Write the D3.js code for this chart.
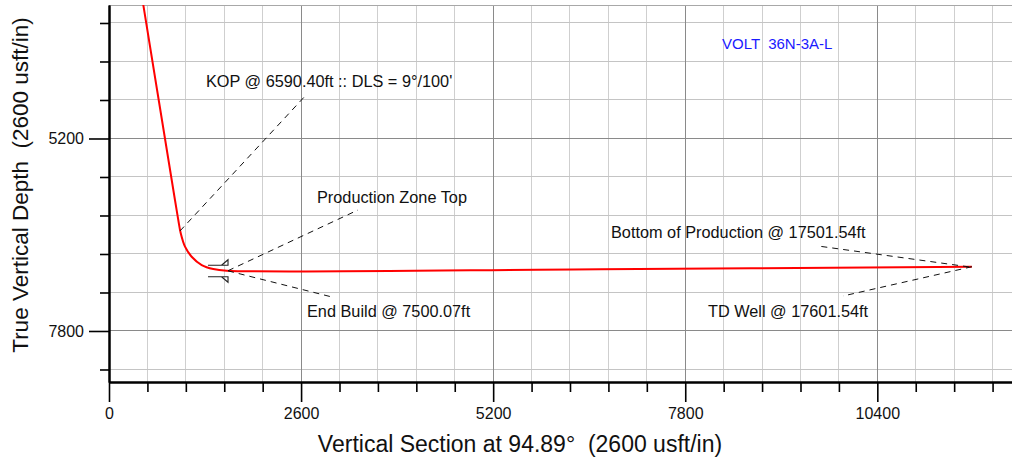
<!DOCTYPE html>
<html>
<head>
<meta charset="utf-8">
<script src="https://cdn.jsdelivr.net/npm/d3@7"></script>
<style>
  body { margin: 0; background: #fff; }
  text { font-family: "Liberation Sans", Arial, sans-serif; }
</style>
</head>
<body>
<div id="plotDiv"></div>
<script>
// --- Data ---
const vsTicks = [0, 2600, 5200, 7800, 10400];
const tvdTicks = [5200, 7800];

// well path: vertical section (usft) and TVD (usft)
const pathVS  = [400, 893, 938, 971, 1029, 1119, 1255, 1412, 1593, 6650, 11680];
const pathTVD = [3000, 6031, 6301, 6480, 6661, 6797, 6909, 6963, 6986, 6966, 6932];

// annotations: label text and the point on the well they point at
const annoLabels = ["KOP @ 6590.40ft :: DLS = 9°/100'", "Production Zone Top", "End Build @ 7500.07ft",
                    "Bottom of Production @ 17501.54ft", "TD Well @ 17601.54ft"];
const annoVS  = [961, 1611, 1611, 11640, 11680];
const annoTVD = [6449, 6986, 6988, 6934, 6932];

// target flag location (production zone top)
const targetVS = [1611];
const targetTVD = [6986];

const wellName = "VOLT  36N-3A-L";

const chart_margin = {top:5, right:0, bottom:79, left:109};
const chart_width = 1012 - chart_margin.left - chart_margin.right;
const chart_height = 461 - chart_margin.top - chart_margin.bottom;

const chart_svg_container = d3.select("#plotDiv")
    .append("svg")
    .attr("width", 1012)
    .attr("height", 461)

const chart_svg = chart_svg_container.append("g")
    .attr("transform", `translate(${chart_margin.left},${chart_margin.top})`)

// ---Scales--- (same usft/px both ways)
const xScale = d3.scaleLinear()
    .domain([0, 12223])
    .range([0, chart_width])

const yScale = d3.scaleLinear()
    .domain([3397, 8489])
    .range([0, chart_height])

// --- Grid ---
const minorX = d3.range(520, 12223, 520).filter(v => v % 2600 !== 0);
const majorX = d3.range(2600, 12223, 2600);
const minorY = d3.range(3640, 8489, 520).filter(v => v % 2600 !== 0);
const majorY = d3.range(5200, 8489, 2600);

const grid = chart_svg.append("g").attr("shape-rendering", "crispEdges");

grid.selectAll(".vminor").data(minorX).enter().append("line")
    .attr("x1", d => xScale(d)).attr("x2", d => xScale(d))
    .attr("y1", 0).attr("y2", chart_height)
    .style("stroke", "#cfcfcf")

grid.selectAll(".hminor").data(minorY).enter().append("line")
    .attr("x1", 0).attr("x2", chart_width)
    .attr("y1", d => yScale(d)).attr("y2", d => yScale(d))
    .style("stroke", "#c4c4c4")

grid.selectAll(".vmajor").data(majorX).enter().append("line")
    .attr("x1", d => xScale(d)).attr("x2", d => xScale(d))
    .attr("y1", 0).attr("y2", chart_height)
    .style("stroke", "#8a8a8a")

grid.selectAll(".hmajor").data(majorY).enter().append("line")
    .attr("x1", 0).attr("x2", chart_width)
    .attr("y1", d => yScale(d)).attr("y2", d => yScale(d))
    .style("stroke", "#8a8a8a")

// top border
grid.append("line")
    .attr("x1", 0).attr("x2", chart_width).attr("y1", 0).attr("y2", 0)
    .style("stroke", "#a8a8a8")

// --- Axes ---
const xMinorAxis = d3.axisBottom(xScale).tickValues(minorX).tickSize(10).tickFormat("").tickSizeOuter(0);
const xAxis = d3.axisBottom(xScale).tickValues(vsTicks).tickSize(20).tickPadding(6)
    .tickFormat(d3.format("d")).tickSizeOuter(0);
const yMinorAxis = d3.axisLeft(yScale).tickValues(minorY).tickSize(9).tickFormat("").tickSizeOuter(0);
const yAxis = d3.axisLeft(yScale).tickValues(tvdTicks).tickSize(20).tickPadding(5)
    .tickFormat(d3.format("d")).tickSizeOuter(0);

function styleAxis(g) {
    g.select(".domain").style("stroke", "#000").style("stroke-width", 2);
    g.selectAll(".tick line").style("stroke", "#000").style("stroke-width", 1.6);
    g.selectAll(".tick text")
        .style("font-family", '"Liberation Sans", Arial, sans-serif')
        .style("font-size", "16px").style("fill", "#111");
}

chart_svg.append("g").attr("transform", `translate(0,${chart_height})`).call(xMinorAxis).call(styleAxis)
chart_svg.append("g").attr("transform", `translate(0,${chart_height})`).call(xAxis).call(styleAxis)
chart_svg.append("g").call(yMinorAxis).call(styleAxis)
chart_svg.append("g").call(yAxis).call(styleAxis)

// --- Well path ---
const wellLine = d3.line()
    .x(d => xScale(d[0]))
    .y(d => yScale(d[1]))
    .curve(d3.curveCatmullRom.alpha(0.5));

chart_svg.append("defs").append("clipPath").attr("id", "clip")
    .append("rect").attr("width", chart_width).attr("height", chart_height)

chart_svg.append("path")
    .datum(pathVS.map((v, i) => [v, pathTVD[i]]))
    .attr("clip-path", "url(#clip)")
    .attr("d", wellLine)
    .style("fill", "none")
    .style("stroke", "#ff0000")
    .style("stroke-width", 2)

// --- target flags ---
const flags = chart_svg.selectAll(".flag").data(targetVS).enter().append("g")
    .attr("transform", (d, i) => `translate(${xScale(d)},${yScale(targetTVD[i])})`)
flags.append("path")
    .attr("d", "M-20,-5.5 H0 V-11 L-6.5,-5.5 M-20,6 H0 V11.5 L-6.5,6")
    .style("fill", "none").style("stroke", "#222").style("stroke-width", 1.1)

// --- Annotations ---
// leader end (px) and label position (px)
const leaderEnd = [[307, 94], [358, 210], [332, 297], [818, 246], [843, 296]];
const labelPos  = [[206, 87], [317, 203], [307, 316.5], [611, 238], [708, 317]];

annoLabels.forEach(function(t, i) {
    chart_svg_container.append("line")
        .attr("x1", chart_margin.left + xScale(annoVS[i]))
        .attr("y1", chart_margin.top + yScale(annoTVD[i]))
        .attr("x2", leaderEnd[i][0])
        .attr("y2", leaderEnd[i][1])
        .style("stroke", "#111")
        .style("stroke-width", 1)
        .style("stroke-dasharray", "6,5")
    chart_svg_container.append("text")
        .attr("x", labelPos[i][0])
        .attr("y", labelPos[i][1])
        .style("font-size", "16.3px")
        .style("fill", "#111")
        .style("white-space", "pre")
        .text(t)
})

chart_svg_container.append("text")
    .attr("x", 722).attr("y", 48.5)
    .style("font-size", "15px")
    .style("fill", "#1a1aff")
    .style("white-space", "pre")
    .text(wellName)

// --- Axis titles ---
chart_svg_container.append("text")
    .attr("x", 520).attr("y", 452)
    .attr("text-anchor", "middle")
    .style("font-size", "23px")
    .style("fill", "#111")
    .style("white-space", "pre")
    .text("Vertical Section at 94.89°  (2600 usft/in)")

chart_svg_container.append("text")
    .attr("transform", "translate(28,185) rotate(-90)")
    .attr("text-anchor", "middle")
    .style("font-size", "22.5px")
    .style("fill", "#111")
    .style("white-space", "pre")
    .text("True Vertical Depth  (2600 usft/in)")
</script>
</body>
</html>
